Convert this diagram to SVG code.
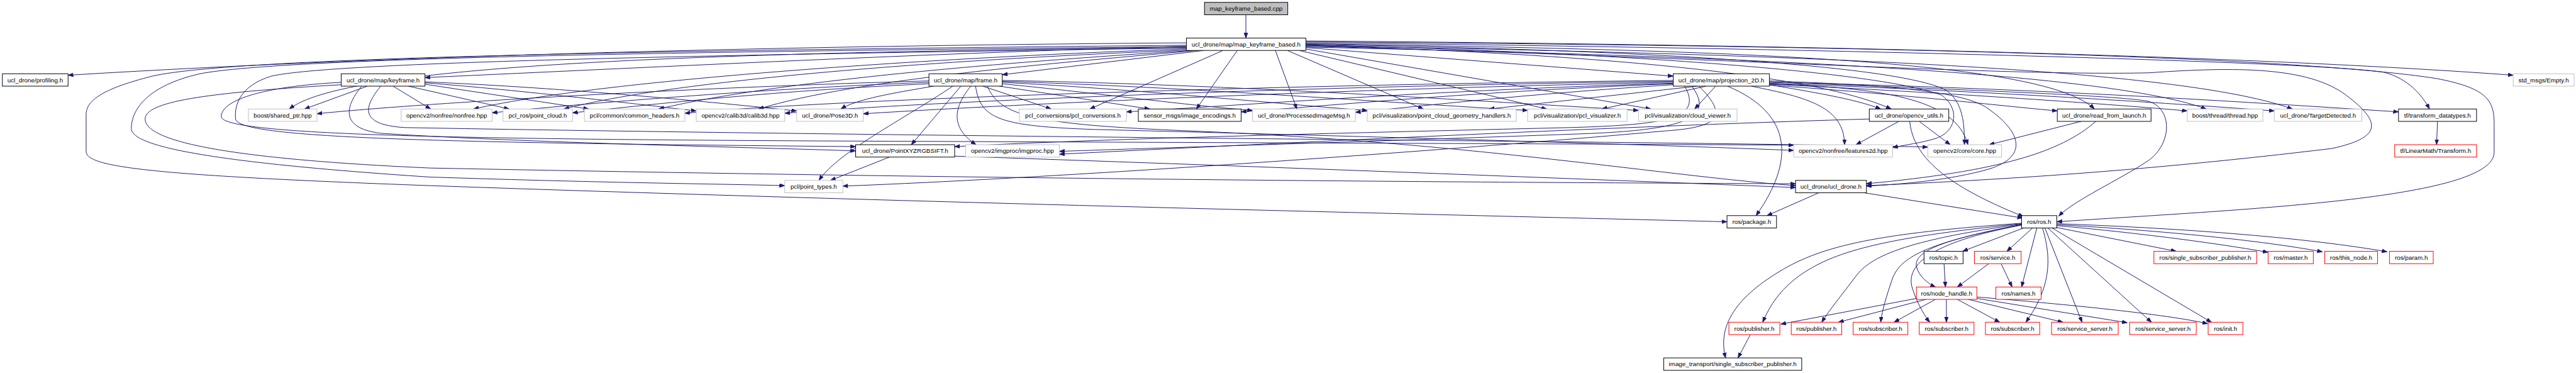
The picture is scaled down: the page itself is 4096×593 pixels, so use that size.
<svg xmlns="http://www.w3.org/2000/svg" width="4096" height="593" viewBox="0 0 4096 593">
<defs>
<style>
.e{fill:none;stroke:#191970;stroke-width:1.3;marker-end:url(#ah)}
rect{stroke-width:1.3}
.b{fill:#fff;stroke:#000}
.g{fill:#fff;stroke:#bfbfbf}
.r{fill:#fff;stroke:#ff0000}
.m{fill:#bfbfbf;stroke:#000}
text{font-family:"Liberation Sans",Arial,Helvetica,sans-serif;font-size:13px;text-anchor:middle;fill:#000}
</style>
<marker id="ah" markerUnits="userSpaceOnUse" markerWidth="12" markerHeight="9" refX="11" refY="4" orient="auto"><path d="M0,0 L11,4 L0,8 z" fill="#191970" stroke="#191970" stroke-width="1"/></marker>
</defs>
<rect width="4096" height="593" fill="#fff"/>
<g transform="scale(0.7567)">
<g id="edges">
<path class="e" d="M2618,31 L2618,80"/>
<path class="e" d="M2493,90 C1800,95 900,112 143,158"/>
<path class="e" d="M2493,97 C2000,110 1400,140 893,163"/>
<path class="e" d="M2493,100 C1400,110 720,140 608,229"/>
<path class="e" d="M2493,95 C1500,105 500,118 320,160 C220,185 181,210 181,240 L181,318 C181,350 300,368 903,390 C1900,425 3000,450 3629,466"/>
<path class="e" d="M2493,98 C1500,108 600,120 420,155 C310,180 276,230 276,270 C276,305 420,340 903,372 C1300,385 1500,386 1649,390"/>
<path class="e" d="M2493,101 C1500,115 700,130 570,160 C505,180 492,220 495,250 C500,290 900,300 1798,308"/>
<path class="e" d="M2493,103 C2100,115 1300,160 995,229"/>
<path class="e" d="M2500,105 C2100,120 1450,160 1185,229"/>
<path class="e" d="M2505,106 C2200,125 1650,165 1384,229"/>
<path class="e" d="M2515,106 C2250,130 1800,165 1594,229"/>
<path class="e" d="M2530,106 L2106,157"/>
<path class="e" d="M2570,106 L2290,229"/>
<path class="e" d="M2600,106 L2514,229"/>
<path class="e" d="M2680,106 L2725,229"/>
<path class="e" d="M2705,106 L2991,229"/>
<path class="e" d="M2730,106 L3250,229"/>
<path class="e" d="M2744,103 L3469,229"/>
<path class="e" d="M2744,100 L3516,160"/>
<path class="e" d="M2744,86 C3500,92 4600,108 5281,158"/>
<path class="e" d="M2744,88 C3800,95 4800,115 5120,165 C5225,185 5241,210 5241,260 L5241,320 C5241,420 4700,440 4322,466"/>
<path class="e" d="M2744,97 C3600,120 4200,160 4515,153 C4700,140 4850,140 4930,200 C5010,260 5000,290 4900,312 C4500,360 4200,378 3922,390"/>
<path class="e" d="M2744,95 C3300,112 3800,150 3974,229"/>
<path class="e" d="M2744,93 C3500,105 4000,140 4090,190 C4125,215 4128,260 4128,304"/>
<path class="e" d="M2744,94 C3400,110 3950,150 4080,200 C4120,230 4110,275 4070,290 C4040,300 4000,305 3977,310"/>
<path class="e" d="M2744,92 C3700,105 4300,130 4401,229"/>
<path class="e" d="M2744,99 C3800,120 4450,160 4636,229"/>
<path class="e" d="M2744,96 C3900,115 4600,150 4817,229"/>
<path class="e" d="M2744,90 C3800,100 4880,130 5010,152 C5060,165 5090,200 5105,229"/>
<path class="e" d="M772,181 L640,229"/>
<path class="e" d="M826,181 L905,229"/>
<path class="e" d="M858,181 L1070,229"/>
<path class="e" d="M893,177 L1237,229"/>
<path class="e" d="M893,174 C1100,190 1350,220 1463,233"/>
<path class="e" d="M893,172 C1200,185 1500,215 1674,233"/>
<path class="e" d="M717,178 C420,195 305,215 305,250 C305,300 500,335 903,353 C2000,375 3000,383 3773,386"/>
<path class="e" d="M717,173 C545,182 465,212 465,245 C465,285 1000,292 1700,296 C2600,300 3300,302 3769,305"/>
<path class="e" d="M760,181 C720,230 720,270 800,280 C1100,300 1600,310 1798,317"/>
<path class="e" d="M800,181 C760,230 760,262 850,268 C1500,280 2500,290 3000,295 C3500,300 3900,305 4051,309"/>
<path class="e" d="M2065,181 L2209,229"/>
<path class="e" d="M2100,181 L2416,229"/>
<path class="e" d="M2106,176 C2300,195 2500,222 2632,232"/>
<path class="e" d="M2106,173 C2400,188 2700,220 2873,232"/>
<path class="e" d="M2106,171 C2500,183 2900,215 3210,232"/>
<path class="e" d="M2106,169 C2600,178 3100,212 3443,232"/>
<path class="e" d="M2019,181 L1915,304"/>
<path class="e" d="M2040,181 C2000,230 2000,270 2051,304"/>
<path class="e" d="M2002,181 C1900,250 1760,320 1721,379"/>
<path class="e" d="M1962,181 C1880,195 1800,208 1767,229"/>
<path class="e" d="M1952,170 C1500,182 900,215 666,239"/>
<path class="e" d="M1952,173 C1600,186 1200,220 1034,237"/>
<path class="e" d="M1952,176 C1600,192 1350,222 1203,237"/>
<path class="e" d="M2050,181 C2060,250 2100,265 2300,272 C3000,290 3500,305 3769,316"/>
<path class="e" d="M2075,181 C2100,245 2180,262 2500,275 C3100,300 3500,370 3773,390"/>
<path class="e" d="M3567,181 L3129,229"/>
<path class="e" d="M3585,181 L3366,229"/>
<path class="e" d="M3605,181 L3561,229"/>
<path class="e" d="M3516,178 C3200,198 3000,222 2848,236"/>
<path class="e" d="M3516,176 C3100,192 2800,222 2608,235"/>
<path class="e" d="M3516,175 C3000,190 2600,222 2367,235"/>
<path class="e" d="M3516,173 C2900,185 2200,215 1814,239"/>
<path class="e" d="M3516,171 C2800,180 2000,210 1649,238"/>
<path class="e" d="M3516,169 C2800,176 1800,205 1439,238"/>
<path class="e" d="M3540,181 C3580,250 3500,262 3300,268 C2800,280 2300,292 2006,308"/>
<path class="e" d="M3555,181 C3610,255 3520,275 3300,282 C2800,300 2400,312 2226,318"/>
<path class="e" d="M3570,181 C3640,250 3600,268 3500,275 C3000,320 2200,375 1771,391"/>
<path class="e" d="M3630,181 C3770,240 3770,340 3690,453"/>
<path class="e" d="M3718,178 C3800,192 3900,208 3952,229"/>
<path class="e" d="M3680,181 C3800,205 3875,225 3876,304"/>
<path class="e" d="M3718,176 C3950,185 4110,205 4135,304"/>
<path class="e" d="M3718,179 C4000,198 4200,222 4323,233"/>
<path class="e" d="M3718,177 C4100,195 4450,220 4596,233"/>
<path class="e" d="M3718,175 C4200,192 4600,220 4779,233"/>
<path class="e" d="M3718,173 C4300,185 4800,220 5040,235"/>
<path class="e" d="M3718,172 C4100,188 4450,200 4515,213 C4565,228 4565,300 4515,337 C4450,380 4360,420 4326,454"/>
<path class="e" d="M3718,170 C3950,178 4130,190 4180,230 C4250,280 4260,330 4180,355 C4100,378 4000,387 3922,391"/>
<path class="e" d="M3990,255 L3900,304"/>
<path class="e" d="M4033,255 L4098,304"/>
<path class="e" d="M4013,255 C4020,330 4090,390 4252,455"/>
<path class="e" d="M3928,250 C3500,262 2800,295 2226,324"/>
<path class="e" d="M4373,255 L4180,304"/>
<path class="e" d="M4404,255 C4330,320 4200,360 3922,386"/>
<path class="e" d="M3822,405 L3713,453"/>
<path class="e" d="M3917,405 L4250,458"/>
<path class="e" d="M1869,330 L1745,379"/>
<path class="e" d="M2006,328 C2600,348 3300,375 3773,394"/>
<path class="e" d="M5122,255 L5120,304"/>
<path class="e" d="M4252,479 L4124,528"/>
<path class="e" d="M4271,479 L4217,528"/>
<path class="e" d="M4280,479 L4248,603"/>
<path class="e" d="M4248,472 C4100,500 4020,525 4027,560 C4032,580 4050,595 4067,603"/>
<path class="e" d="M4292,479 C4310,540 4312,600 4257,677"/>
<path class="e" d="M4297,479 L4375,677"/>
<path class="e" d="M4303,479 L4521,677"/>
<path class="e" d="M4312,479 L4647,677"/>
<path class="e" d="M4322,478 L4573,528"/>
<path class="e" d="M4322,474 C4500,490 4650,510 4766,530"/>
<path class="e" d="M4322,472 C4550,485 4750,505 4880,529"/>
<path class="e" d="M4322,470 C4600,480 4850,500 5016,529"/>
<path class="e" d="M4248,470 C3950,500 3850,530 3780,580 C3740,610 3720,640 3704,677"/>
<path class="e" d="M4248,471 C4000,505 3930,540 3900,580 C3870,620 3845,650 3828,677"/>
<path class="e" d="M4248,472 C4050,510 3990,540 3975,590 C3965,620 3955,650 3952,677"/>
<path class="e" d="M4248,473 C4050,510 4000,560 4020,610 C4030,640 4045,665 4055,677"/>
<path class="e" d="M4248,469 C3950,490 3830,515 3740,570 C3640,630 3610,690 3626,752"/>
<path class="e" d="M4085,554 L4088,603"/>
<path class="e" d="M4179,554 L4113,603"/>
<path class="e" d="M4205,554 L4228,603"/>
<path class="e" d="M4027,627 L3742,681"/>
<path class="e" d="M4047,629 L3863,677"/>
<path class="e" d="M4067,629 L3980,677"/>
<path class="e" d="M4090,629 L4090,677"/>
<path class="e" d="M4113,629 L4202,677"/>
<path class="e" d="M4136,629 L4335,677"/>
<path class="e" d="M4154,627 L4470,678"/>
<path class="e" d="M4154,624 C4350,640 4550,660 4639,680"/>
<path class="e" d="M3678,703 L3652,752"/>
</g>
<g id="n0"><rect class="m" x="2531" y="5" width="175" height="26"/><text x="2618.5" y="22.5">map_keyframe_based.cpp</text></g>
<g id="n1"><rect class="b" x="2493" y="80" width="251" height="26"/><text x="2618.5" y="97.5">ucl_drone/map/map_keyframe_based.h</text></g>
<g id="n2"><rect class="b" x="5" y="155" width="138" height="26"/><text x="74" y="172.5">ucl_drone/profiling.h</text></g>
<g id="n3"><rect class="b" x="717" y="155" width="176" height="26"/><text x="805" y="172.5">ucl_drone/map/keyframe.h</text></g>
<g id="n4"><rect class="b" x="1952" y="155" width="154" height="26"/><text x="2029" y="172.5">ucl_drone/map/frame.h</text></g>
<g id="n5"><rect class="b" x="3516" y="155" width="202" height="26"/><text x="3617" y="172.5">ucl_drone/map/projection_2D.h</text></g>
<g id="n6"><rect class="g" x="5281" y="155" width="128" height="26"/><text x="5345" y="172.5">std_msgs/Empty.h</text></g>
<g id="n7"><rect class="g" x="522" y="229" width="144" height="26"/><text x="594" y="246.5">boost/shared_ptr.hpp</text></g>
<g id="n8"><rect class="g" x="843" y="229" width="191" height="26"/><text x="938.5" y="246.5">opencv2/nonfree/nonfree.hpp</text></g>
<g id="n9"><rect class="g" x="1057" y="229" width="146" height="26"/><text x="1130" y="246.5">pcl_ros/point_cloud.h</text></g>
<g id="n10"><rect class="g" x="1228" y="229" width="211" height="26"/><text x="1333.5" y="246.5">pcl/common/common_headers.h</text></g>
<g id="n11"><rect class="g" x="1463" y="229" width="186" height="26"/><text x="1556" y="246.5">opencv2/calib3d/calib3d.hpp</text></g>
<g id="n12"><rect class="g" x="1674" y="229" width="140" height="26"/><text x="1744" y="246.5">ucl_drone/Pose3D.h</text></g>
<g id="n13"><rect class="g" x="2142" y="229" width="225" height="26"/><text x="2254.5" y="246.5">pcl_conversions/pcl_conversions.h</text></g>
<g id="n14"><rect class="b" x="2392" y="229" width="216" height="26"/><text x="2500" y="246.5">sensor_msgs/image_encodings.h</text></g>
<g id="n15"><rect class="g" x="2632" y="229" width="216" height="26"/><text x="2740" y="246.5">ucl_drone/ProcessedImageMsg.h</text></g>
<g id="n16"><rect class="g" x="2873" y="229" width="313" height="26"/><text x="3029.5" y="246.5">pcl/visualization/point_cloud_geometry_handlers.h</text></g>
<g id="n17"><rect class="g" x="3210" y="229" width="209" height="26"/><text x="3314.5" y="246.5">pcl/visualization/pcl_visualizer.h</text></g>
<g id="n18"><rect class="g" x="3443" y="229" width="207" height="26"/><text x="3546.5" y="246.5">pcl/visualization/cloud_viewer.h</text></g>
<g id="n19"><rect class="b" x="3928" y="229" width="167" height="26"/><text x="4011.5" y="246.5">ucl_drone/opencv_utils.h</text></g>
<g id="n20"><rect class="b" x="4323" y="229" width="197" height="26"/><text x="4421.5" y="246.5">ucl_drone/read_from_launch.h</text></g>
<g id="n21"><rect class="g" x="4596" y="229" width="159" height="26"/><text x="4675.5" y="246.5">boost/thread/thread.hpp</text></g>
<g id="n22"><rect class="g" x="4779" y="229" width="184" height="26"/><text x="4871" y="246.5">ucl_drone/TargetDetected.h</text></g>
<g id="n23"><rect class="b" x="5040" y="229" width="164" height="26"/><text x="5122" y="246.5">tf/transform_datatypes.h</text></g>
<g id="n24"><rect class="b" x="1798" y="304" width="208" height="26"/><text x="1902" y="321.5">ucl_drone/PointXYZRGBSIFT.h</text></g>
<g id="n25"><rect class="g" x="2029" y="304" width="197" height="26"/><text x="2127.5" y="321.5">opencv2/imgproc/imgproc.hpp</text></g>
<g id="n26"><rect class="g" x="3769" y="304" width="208" height="26"/><text x="3873" y="321.5">opencv2/nonfree/features2d.hpp</text></g>
<g id="n27"><rect class="g" x="4051" y="304" width="155" height="26"/><text x="4128.5" y="321.5">opencv2/core/core.hpp</text></g>
<g id="n28"><rect class="r" x="5032" y="304" width="172" height="26"/><text x="5118" y="321.5">tf/LinearMath/Transform.h</text></g>
<g id="n29"><rect class="g" x="1649" y="379" width="122" height="26"/><text x="1710" y="396.5">pcl/point_types.h</text></g>
<g id="n30"><rect class="b" x="3773" y="379" width="149" height="26"/><text x="3847.5" y="396.5">ucl_drone/ucl_drone.h</text></g>
<g id="n31"><rect class="b" x="3629" y="453" width="104" height="26"/><text x="3681" y="470.5">ros/package.h</text></g>
<g id="n32"><rect class="b" x="4248" y="453" width="74" height="26"/><text x="4285" y="470.5">ros/ros.h</text></g>
<g id="n33"><rect class="b" x="4043" y="528" width="82" height="26"/><text x="4084" y="545.5">ros/topic.h</text></g>
<g id="n34"><rect class="r" x="4149" y="528" width="98" height="26"/><text x="4198" y="545.5">ros/service.h</text></g>
<g id="n35"><rect class="r" x="4526" y="528" width="216" height="26"/><text x="4634" y="545.5">ros/single_subscriber_publisher.h</text></g>
<g id="n36"><rect class="r" x="4766" y="528" width="95" height="26"/><text x="4813.5" y="545.5">ros/master.h</text></g>
<g id="n37"><rect class="r" x="4885" y="528" width="111" height="26"/><text x="4940.5" y="545.5">ros/this_node.h</text></g>
<g id="n38"><rect class="r" x="5021" y="528" width="92" height="26"/><text x="5067" y="545.5">ros/param.h</text></g>
<g id="n39"><rect class="r" x="4027" y="603" width="127" height="26"/><text x="4090.5" y="620.5">ros/node_handle.h</text></g>
<g id="n40"><rect class="r" x="4194" y="603" width="95" height="26"/><text x="4241.5" y="620.5">ros/names.h</text></g>
<g id="n41"><rect class="r" x="3633" y="677" width="107" height="26"/><text x="3686.5" y="694.5">ros/publisher.h</text></g>
<g id="n42"><rect class="r" x="3764" y="677" width="106" height="26"/><text x="3817" y="694.5">ros/publisher.h</text></g>
<g id="n43"><rect class="r" x="3894" y="677" width="115" height="26"/><text x="3951.5" y="694.5">ros/subscriber.h</text></g>
<g id="n44"><rect class="r" x="4033" y="677" width="115" height="26"/><text x="4090.5" y="694.5">ros/subscriber.h</text></g>
<g id="n45"><rect class="r" x="4172" y="677" width="114" height="26"/><text x="4229" y="694.5">ros/subscriber.h</text></g>
<g id="n46"><rect class="r" x="4311" y="677" width="140" height="26"/><text x="4381" y="694.5">ros/service_server.h</text></g>
<g id="n47"><rect class="r" x="4475" y="677" width="140" height="26"/><text x="4545" y="694.5">ros/service_server.h</text></g>
<g id="n48"><rect class="r" x="4640" y="677" width="73" height="26"/><text x="4676.5" y="694.5">ros/init.h</text></g>
<g id="n49"><rect class="b" x="3496" y="752" width="290" height="26"/><text x="3641" y="769.5">image_transport/single_subscriber_publisher.h</text></g>
</g>
</svg>
